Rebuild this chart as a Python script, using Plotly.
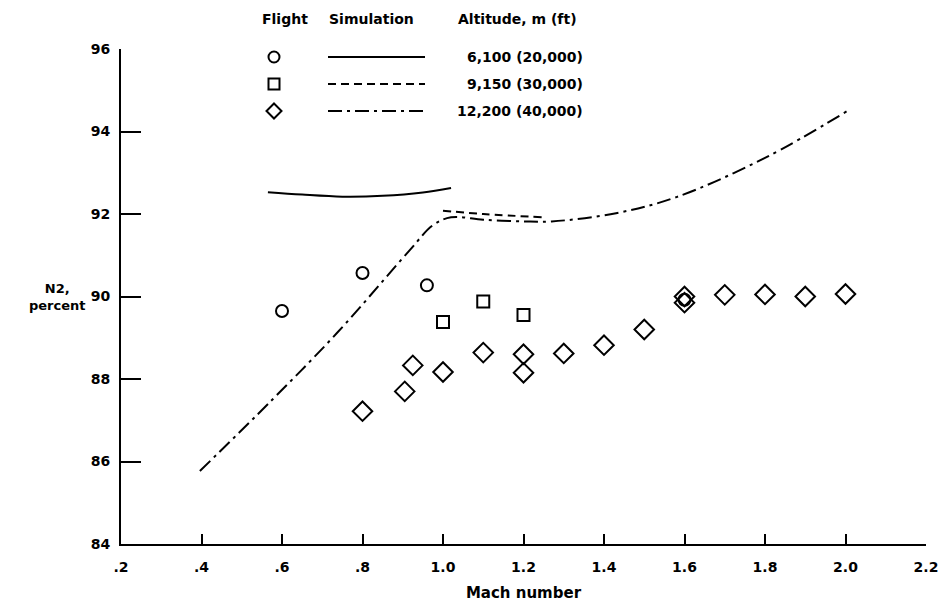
import plotly.graph_objects as go

# ---- data ----
flight_20k_mach = [0.6, 0.8, 0.96, 1.6]
flight_20k_n2 = [89.65, 90.57, 90.27, 89.92]

flight_30k_mach = [1.0, 1.1, 1.2]
flight_30k_n2 = [89.38, 89.88, 89.55]

flight_40k_mach = [0.8, 0.905, 0.925, 1.0, 1.1, 1.2, 1.2, 1.3, 1.4, 1.5, 1.6, 1.6, 1.7, 1.8, 1.9, 2.0]
flight_40k_n2 = [87.22, 87.7, 88.33, 88.17, 88.64, 88.6, 88.15, 88.62, 88.82, 89.2, 90.0, 89.85, 90.04, 90.05, 90.0, 90.06]

sim_20k_mach = [0.565, 0.65, 0.75, 0.85, 0.95, 1.02]
sim_20k_n2 = [92.53, 92.47, 92.42, 92.44, 92.52, 92.63]

sim_30k_mach = [1.0, 1.1, 1.25]
sim_30k_n2 = [92.08, 92.0, 91.92]

sim_40k_mach = [0.396, 0.575, 0.737, 0.918, 0.975, 1.02, 1.1, 1.2, 1.27, 1.43, 1.58, 1.8, 2.005]
sim_40k_n2 = [85.77, 87.49, 89.12, 91.13, 91.73, 91.92, 91.86, 91.82, 91.82, 92.02, 92.41, 93.36, 94.5]

x_ticks = [0.2, 0.4, 0.6, 0.8, 1.0, 1.2, 1.4, 1.6, 1.8, 2.0, 2.2]
x_ticktext = [".2", ".4", ".6", ".8", "1.0", "1.2", "1.4", "1.6", "1.8", "2.0", "2.2"]
y_ticks = [84, 86, 88, 90, 92, 94, 96]

legend_rows = ["6,100 (20,000)", "9,150 (30,000)", "12,200 (40,000)"]
legend_symbols = ["circle", "square", "diamond"]
legend_dashes = ["solid", "8px,5px", "14px,5px,3px,5px"]

FONT = "DejaVu Sans"
BLACK = "#000000"

fig = go.Figure()

for xs, ys, dash in [(sim_20k_mach, sim_20k_n2, legend_dashes[0]),
                     (sim_30k_mach, sim_30k_n2, legend_dashes[1]),
                     (sim_40k_mach, sim_40k_n2, legend_dashes[2])]:
    fig.add_trace(go.Scatter(x=xs, y=ys, mode="lines", line_shape="spline",
                             line=dict(color=BLACK, width=2, dash=dash),
                             showlegend=False, hoverinfo="skip"))

for xs, ys, sym, size in [(flight_20k_mach, flight_20k_n2, "circle-open", 12),
                          (flight_30k_mach, flight_30k_n2, "square-open", 12),
                          (flight_40k_mach, flight_40k_n2, "diamond-open", 15)]:
    fig.add_trace(go.Scatter(x=xs, y=ys, mode="markers",
                             marker=dict(symbol=sym, size=size, color=BLACK,
                                         line=dict(color=BLACK, width=2)),
                             showlegend=False))

# ---- layout geometry (pixels) ----
W, H = 945, 608
L, R, T, B = 121, 19, 49, 64
pw, ph = W - L - R, H - T - B

def px(xp):
    return (xp - L) / pw

def py(yp):
    return (H - B - yp) / ph

shapes = []
annotations = []

# legend header
for text, xc in [("Flight", 285), ("Simulation", 371), ("Altitude, m (ft)", 517)]:
    annotations.append(dict(text=text, x=px(xc), y=py(19), xref="paper", yref="paper",
                            showarrow=False, xanchor="center", yanchor="middle",
                            font=dict(family=FONT, size=14, color=BLACK, weight="bold")))

row_y = [57, 84, 111]
for i, label in enumerate(legend_rows):
    yp = row_y[i]
    annotations.append(dict(text=label, x=px(585), y=py(yp), xref="paper", yref="paper",
                            showarrow=False, xanchor="right", yanchor="middle",
                            font=dict(family=FONT, size=14, color=BLACK, weight="bold")))
    shapes.append(dict(type="line", xref="paper", yref="paper",
                       x0=px(328), x1=px(425), y0=py(yp), y1=py(yp),
                       line=dict(color=BLACK, width=2, dash=legend_dashes[i])))
    sym = legend_symbols[i]
    common = dict(xref="paper", yref="paper", xsizemode="pixel", ysizemode="pixel",
                  xanchor=px(274), yanchor=py(yp), line=dict(color=BLACK, width=2))
    if sym == "circle":
        shapes.append(dict(type="circle", x0=-5.5, x1=5.5, y0=-5.5, y1=5.5, **common))
    elif sym == "square":
        shapes.append(dict(type="rect", x0=-5.5, x1=5.5, y0=-5.5, y1=5.5, **common))
    else:
        shapes.append(dict(type="path", path="M 0 7.5 L 7.5 0 L 0 -7.5 L -7.5 0 Z", **common))

# y-axis title (horizontal)
annotations.append(dict(text="N2,<br>percent", x=px(57), y=py(297), xref="paper", yref="paper",
                        showarrow=False, xanchor="center", yanchor="middle", align="center",
                        font=dict(family=FONT, size=13, color=BLACK, weight="bold")))

fig.update_layout(
    width=W, height=H, autosize=False,
    margin=dict(l=L, r=R, t=T, b=B, pad=0),
    paper_bgcolor="white", plot_bgcolor="white",
    shapes=shapes, annotations=annotations,
    showlegend=False,
    xaxis=dict(range=[0.2, 2.2], tickvals=x_ticks, ticktext=x_ticktext,
               ticks="inside", ticklen=10, tickwidth=2, tickcolor=BLACK,
               showline=True, linewidth=2, linecolor=BLACK, mirror=False,
               showgrid=False, zeroline=False, ticklabelstandoff=9, automargin=False,
               tickfont=dict(family=FONT, size=14, color=BLACK, weight="bold"),
               title=dict(text="Mach number", standoff=14,
                          font=dict(family=FONT, size=15, color=BLACK, weight="bold"))),
    yaxis=dict(range=[84, 96], tickvals=y_ticks,
               ticks="inside", ticklen=20, tickwidth=2, tickcolor=BLACK,
               showline=True, linewidth=2, linecolor=BLACK, mirror=False,
               showgrid=False, zeroline=False, ticklabelstandoff=6, automargin=False,
               tickfont=dict(family=FONT, size=14, color=BLACK, weight="bold")),
)

fig.write_html("out.html", post_script="document.body.style.margin='0';",
               config={"displayModeBar": False})
